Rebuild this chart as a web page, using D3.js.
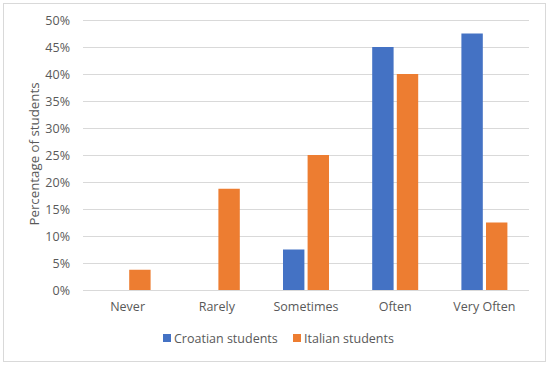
<!DOCTYPE html>
<html>
<head>
<meta charset="utf-8">
<script src="https://cdn.jsdelivr.net/npm/d3@7"></script>
<style>
  body { margin: 0; background: #fff; }
  text { font-family: "Open Sans", "Noto Sans", sans-serif; fill: #595959; }
</style>
</head>
<body>
<script>
// data (percent)
var categories = ["Never", "Rarely", "Sometimes", "Often", "Very Often"];
var seriesNames = ["Croatian students", "Italian students"];
var croatian = [0, 0, 7.5, 45, 47.5];
var italian = [3.75, 18.75, 25, 40, 12.5];
var yTicks = [0, 5, 10, 15, 20, 25, 30, 35, 40, 45, 50];
var colors = ["#4472C4", "#ED7D31"];

var W = 550, H = 366;
var margin = {top: 20, right: 21, bottom: 76, left: 83};
var width = W - margin.left - margin.right,
    height = H - margin.top - margin.bottom;

var svg = d3.select("body").append("svg")
    .attr("width", W)
    .attr("height", H);

// outer chart border
svg.append("rect")
    .attr("x", 3.5).attr("y", 3.5)
    .attr("width", 542).attr("height", 358)
    .attr("fill", "#fff")
    .attr("stroke", "#d9d9d9")
    .attr("stroke-width", 1);

var g = svg.append("g")
    .attr("transform", "translate(" + margin.left + "," + margin.top + ")");

var x0 = d3.scaleBand()
    .domain(categories)
    .range([0, width]);

var x1 = d3.scaleBand()
    .domain(seriesNames)
    .range([x0.bandwidth() / 2 - 23, x0.bandwidth() / 2 + 23])
    .paddingInner(0.13);

var y = d3.scaleLinear()
    .domain([0, 50])
    .range([height, 0]);

// gridlines
g.append("g")
    .selectAll("line")
    .data(yTicks)
  .enter().append("line")
    .attr("x1", 0)
    .attr("x2", width)
    .attr("y1", function(d) { return Math.round(y(d)) + 0.5; })
    .attr("y2", function(d) { return Math.round(y(d)) + 0.5; })
    .attr("stroke", "#d9d9d9")
    .attr("stroke-width", 1);

// y axis labels
var yAxis = g.append("g")
    .call(d3.axisLeft(y).tickValues(yTicks).tickFormat(function(d) { return d + "%"; }).tickSize(0).tickPadding(13));
yAxis.select(".domain").remove();
yAxis.selectAll("text")
    .attr("font-size", "12.5px")
    .attr("fill", "#595959")
    .style("font-family", "'Open Sans', 'Noto Sans', sans-serif");

// x axis labels
var xAxis = g.append("g")
    .attr("transform", "translate(0," + height + ")")
    .call(d3.axisBottom(x0).tickSize(0).tickPadding(12));
xAxis.select(".domain").remove();
xAxis.selectAll("text")
    .attr("font-size", "12.5px")
    .attr("fill", "#595959")
    .style("font-family", "'Open Sans', 'Noto Sans', sans-serif");

// bars
var series = [croatian, italian];
series.forEach(function(vals, si) {
  g.append("g")
    .selectAll("rect")
    .data(vals)
  .enter().append("rect")
    .attr("x", function(d, i) { return x0(categories[i]) + x1(seriesNames[si]); })
    .attr("width", x1.bandwidth())
    .attr("y", function(d) { return y(d); })
    .attr("height", function(d) { return height - y(d); })
    .attr("fill", colors[si]);
});

// y axis title
svg.append("text")
    .attr("transform", "translate(39,154) rotate(-90)")
    .attr("text-anchor", "middle")
    .attr("font-size", "13.3px")
    .text("Percentage of students");

// legend
var legendX = [163, 293];
var legend = svg.append("g");
seriesNames.forEach(function(name, i) {
  legend.append("rect")
    .attr("x", legendX[i]).attr("y", 334)
    .attr("width", 8).attr("height", 8)
    .attr("fill", colors[i]);
  legend.append("text")
    .attr("x", legendX[i] + 11).attr("y", 343)
    .attr("font-size", "12.5px")
    .text(name);
});
</script>
</body>
</html>
